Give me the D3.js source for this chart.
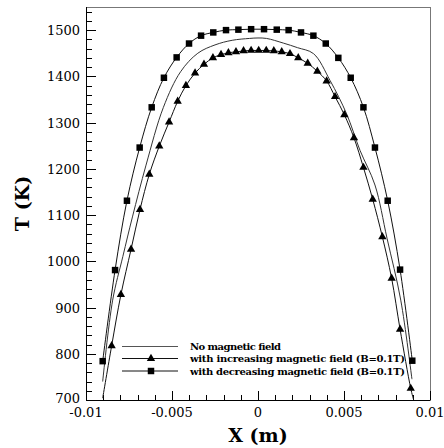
<!DOCTYPE html>
<html><head><meta charset="utf-8">
<script src="https://cdn.jsdelivr.net/npm/d3@7"></script>
<style>body{margin:0;background:#fff}svg{display:block}
text{font-family:"DejaVu Serif","Liberation Serif","Times New Roman",serif}</style>
</head><body>
<svg id="c" width="444" height="448"></svg>
<script>
// Data (x in metres, T in K)
const noFieldX = [-0.00903,-0.00845,-0.00786,-0.00730,-0.00651,-0.00550,-0.00450,-0.00350,-0.00250,-0.00150,-0.00050,0.00000,0.00050,0.00147,0.00230,0.00323,0.00419,0.00515,0.00593,0.00680,0.00750,0.00830,0.00895];
const noFieldT = [740,916,1010,1096,1208,1333,1410,1450,1468,1478,1482,1483,1482,1472,1462,1449,1391,1319,1240,1165,1050,916,745];

const incX = [-0.00851,-0.00797,-0.00738,-0.00686,-0.00632,-0.00574,-0.00517,-0.00467,-0.00419,-0.00366,-0.00314,-0.00262,-0.00215,-0.00172,-0.00128,-0.00084,-0.00040,0.00004,0.00048,0.00092,0.00138,0.00186,0.00234,0.00289,0.00345,0.00399,0.00448,0.00502,0.00558,0.00613,0.00667,0.00723,0.00777,0.00826,0.00888];
const incT = [817,928,1026,1112,1188,1249,1301,1346,1380,1407,1426,1440,1447,1451,1453,1455,1456,1456,1456,1455,1453,1449,1440,1428,1411,1390,1356,1317,1267,1203,1134,1053,963,853,725];
const incLineStart = [-0.00903, 704];
const incLineEnd = [0.00905, 700];

const decX = [-0.00903,-0.00831,-0.00762,-0.00688,-0.00618,-0.00547,-0.00473,-0.00401,-0.00331,-0.00260,-0.00186,-0.00114,-0.00040,0.00035,0.00109,0.00178,0.00250,0.00322,0.00394,0.00467,0.00539,0.00613,0.00680,0.00754,0.00826,0.00897];
const decT = [784,981,1131,1246,1333,1397,1441,1471,1488,1495,1500,1501,1502,1502,1501,1500,1495,1488,1471,1440,1397,1333,1246,1131,982,785];

const xTickVals = [-0.01,-0.005,0,0.005,0.01];
const xTickLabels = ["-0.01","-0.005","0","0.005","0.01"];
const yTickVals = [700,800,900,1000,1100,1200,1300,1400,1500];
const legendLabels = ["No magnetic field","with increasing magnetic field (B=0.1T)","with decreasing magnetic field (B=0.1T)"];

const svg = d3.select("#c");
const L=86,R=430,T=7,B=400;
const x = d3.scaleLinear().domain([-0.01,0.01]).range([L,R]);
const y = d3.scaleLinear().domain([700,1550]).range([B,T]);

// frame
svg.append("rect").attr("x",L+0.5).attr("y",T+0.5).attr("width",R-L).attr("height",B-T)
  .attr("fill","none").attr("stroke","#777").attr("stroke-width",1);
svg.append("line").attr("x1",L+0.5).attr("x2",L+0.5).attr("y1",T).attr("y2",B+0.5).attr("stroke","#000");
svg.append("line").attr("x1",L).attr("x2",R).attr("y1",B+0.5).attr("y2",B+0.5).attr("stroke","#000");

// y ticks (inside)
const yMinor = d3.range(700,1551,20);
svg.append("g").selectAll("line").data(yMinor).join("line")
  .attr("x1",L).attr("x2",d=>L+(d%100===0?10:6))
  .attr("y1",d=>Math.round(y(d))+0.5).attr("y2",d=>Math.round(y(d))+0.5)
  .attr("stroke","#000").attr("stroke-width",1);
svg.append("g").selectAll("text").data(yTickVals).join("text")
  .attr("x",L-6).attr("y",d=>y(d)+(d===700?3:5)).attr("text-anchor","end")
  .attr("font-size",13).text(d=>d);

// x ticks (inside)
const xMinor = d3.range(-10,10.5,1).map(v=>v/1000);
svg.append("g").selectAll("line").data(xMinor).join("line")
  .attr("x1",d=>Math.round(x(d))+0.5).attr("x2",d=>Math.round(x(d))+0.5)
  .attr("y1",B).attr("y2",(d,i)=>B-(i%5===0?9:5))
  .attr("stroke","#000");
svg.append("g").selectAll("text").data(xTickVals).join("text")
  .attr("x",d=>x(d)).attr("y",B+17).attr("text-anchor","middle")
  .attr("font-size",13).text((d,i)=>xTickLabels[i]);

// axis titles
svg.append("text").attr("x",(L+R)/2).attr("y",442).attr("text-anchor","middle")
  .attr("font-weight","bold").attr("font-size",19).text("X (m)");
svg.append("text").attr("transform",`translate(29,${(T+B)/2}) rotate(-90)`).attr("text-anchor","middle")
  .attr("font-weight","bold").attr("font-size",19).text("T (K)");

// curves
const smooth = d3.line().x(d=>x(d[0])).y(d=>y(d[1])).curve(d3.curveCatmullRom);
const g = svg.append("g");
const nf = noFieldX.map((v,i)=>[v,noFieldT[i]]);
const inc = incX.map((v,i)=>[v,incT[i]]);
const dec = decX.map((v,i)=>[v,decT[i]]);
g.append("path").attr("d",smooth(nf)).attr("fill","none").attr("stroke","#333").attr("stroke-width",1);
g.append("path").attr("d",smooth([incLineStart,...inc,incLineEnd])).attr("fill","none").attr("stroke","#111").attr("stroke-width",1);
g.append("path").attr("d",smooth(dec)).attr("fill","none").attr("stroke","#111").attr("stroke-width",1);

const tri = d3.symbol().type(d3.symbolTriangle).size(30);
const sq = d3.symbol().type(d3.symbolSquare).size(42);
g.append("g").selectAll("path").data(inc).join("path")
  .attr("transform",d=>`translate(${x(d[0])},${y(d[1])})`).attr("d",tri).attr("fill","#000");
g.append("g").selectAll("path").data(dec).join("path")
  .attr("transform",d=>`translate(${x(d[0])},${y(d[1])})`).attr("d",sq).attr("fill","#000");

// legend
const lg = svg.append("g");
const rowsY = [346.5,358.5,371];
const lx1=122, lx2=178, mx=151;
lg.selectAll("line").data(rowsY).join("line")
  .attr("x1",lx1).attr("x2",lx2).attr("y1",d=>d).attr("y2",d=>d)
  .attr("stroke",(d,i)=>i===0?"#555":"#111");
lg.append("path").attr("transform",`translate(${mx},${rowsY[1]})`).attr("d",tri).attr("fill","#000");
lg.append("path").attr("transform",`translate(${mx},${rowsY[2]})`).attr("d",sq).attr("fill","#000");
const lens=[91,215,215];
lg.selectAll("text").data(legendLabels).join("text")
  .attr("x",190).attr("y",(d,i)=>rowsY[i]+3.5)
  .attr("font-weight","bold").attr("font-size",10)
  .attr("textLength",(d,i)=>lens[i]).attr("lengthAdjust","spacing")
  .text(d=>d);
</script>
</body></html>
